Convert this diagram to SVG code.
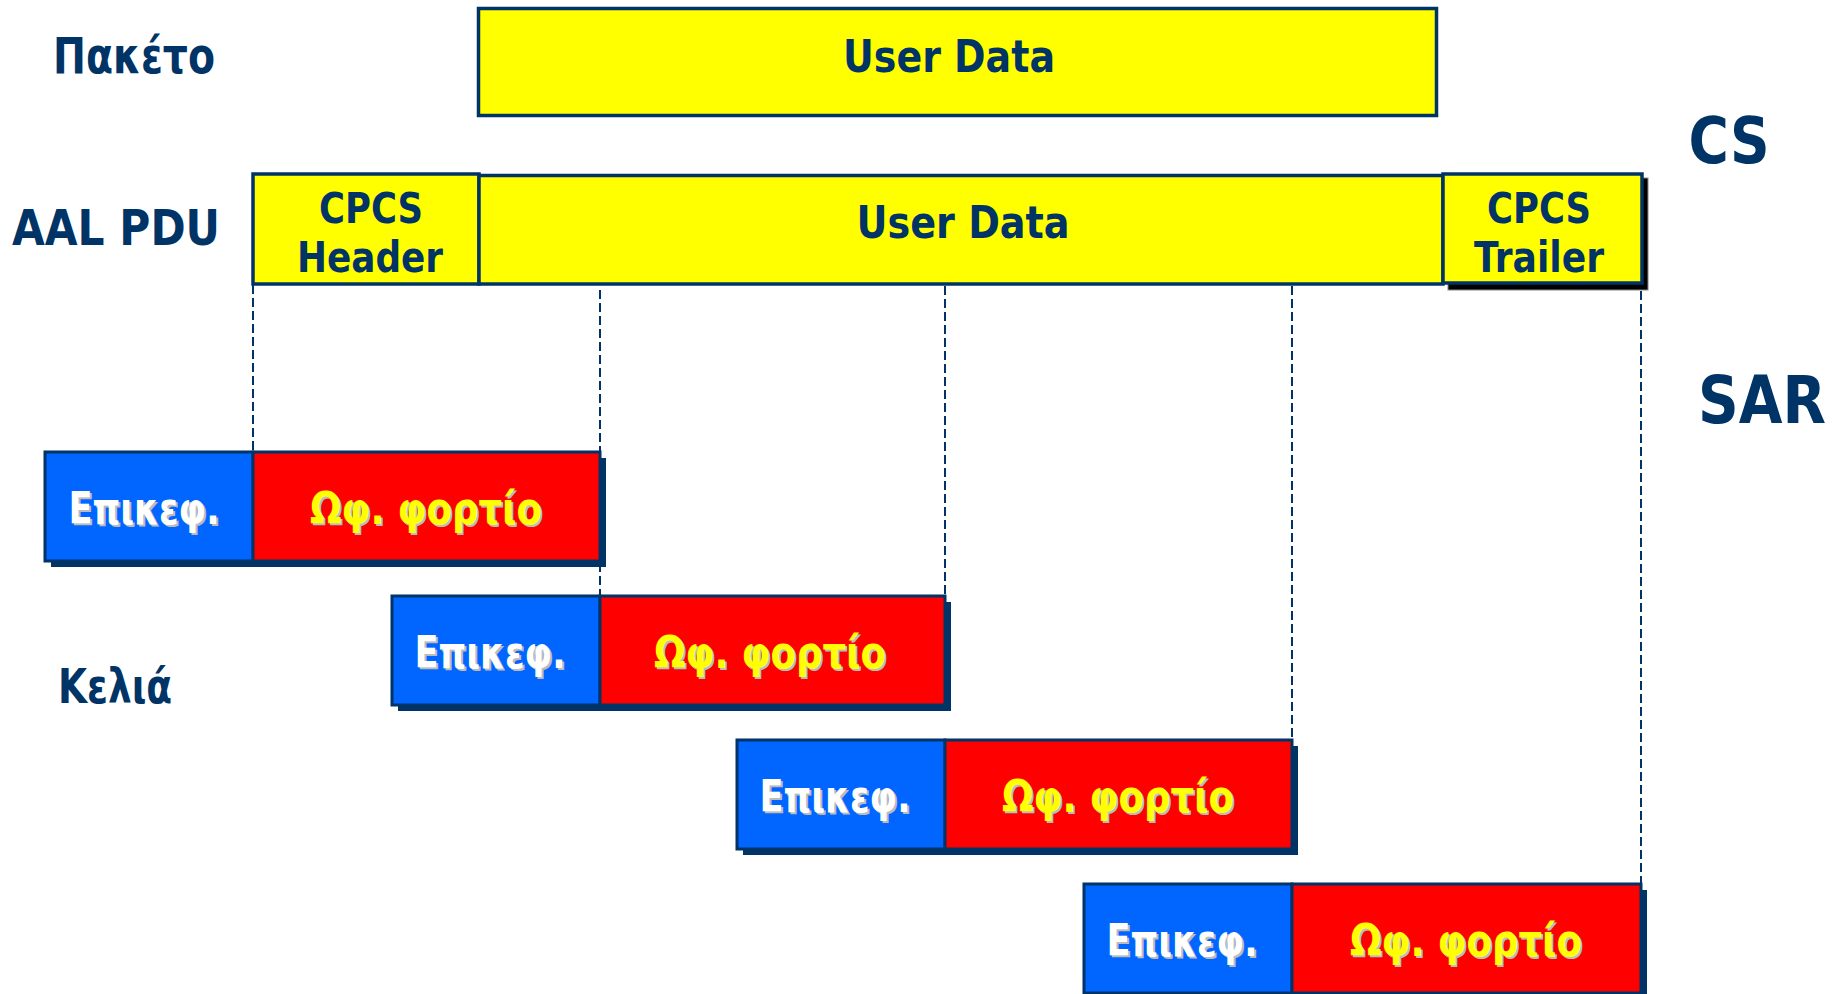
<svg xmlns="http://www.w3.org/2000/svg" width="1844" height="994" viewBox="0 0 1844 994">
<style>
.lbl{font-family:"DejaVu Sans","Liberation Sans",sans-serif;font-weight:bold;fill:#003366;text-anchor:middle}
.ybox{fill:#FFFF00;stroke:#003366;stroke-width:3.5}
.blue{fill:#0066FF;stroke:#003366;stroke-width:3}
.red{fill:#FF0000;stroke:#003366;stroke-width:3}
.shd{fill:#003366}
.ctxt{font-family:"DejaVu Sans","Liberation Sans",sans-serif;font-weight:bold;font-size:44px;text-anchor:middle}
.sh{fill:#BBBBBB}
.w{fill:#FFFFFF}
.yl{fill:#FFFF00}
.dash{stroke:#003366;stroke-width:2;stroke-dasharray:9 4;fill:none}
</style>
<rect width="1844" height="994" fill="#FFFFFF"/>

<g id="labels">
<text class="lbl" x="134" y="73" font-size="50" textLength="162" lengthAdjust="spacingAndGlyphs">Πακέτο</text>
<text class="lbl" x="116" y="245" font-size="50" textLength="208" lengthAdjust="spacingAndGlyphs">AAL PDU</text>
<text class="lbl" x="115" y="703" font-size="48" textLength="114" lengthAdjust="spacingAndGlyphs">Κελιά</text>
<text class="lbl" x="1729" y="163" font-size="64" textLength="81" lengthAdjust="spacingAndGlyphs">CS</text>
<text class="lbl" x="1762" y="423" font-size="66" textLength="128" lengthAdjust="spacingAndGlyphs">SAR</text>
</g>

<g id="connectors">
<line class="dash" x1="253" y1="285" x2="253" y2="452"/>
<line class="dash" x1="600" y1="290" x2="600" y2="596"/>
<line class="dash" x1="945" y1="286" x2="945" y2="596"/>
<line class="dash" x1="1292" y1="286" x2="1292" y2="740"/>
<line class="dash" x1="1641" y1="291" x2="1641" y2="884"/>
</g>

<g id="packet">
<rect class="ybox" x="478.5" y="8.5" width="958" height="107"/>
<text class="lbl" x="949" y="72" font-size="44" textLength="212" lengthAdjust="spacingAndGlyphs">User Data</text>
</g>

<g id="cpcs-header">
<rect class="ybox" x="253" y="174" width="226" height="110"/>
<text class="lbl" x="371" y="223" font-size="42" textLength="104" lengthAdjust="spacingAndGlyphs">CPCS</text>
<text class="lbl" x="370" y="272" font-size="42" textLength="146" lengthAdjust="spacingAndGlyphs">Header</text>
</g>

<g id="user-data">
<rect class="ybox" x="479" y="175.5" width="964" height="108.5"/>
<text class="lbl" x="963" y="238" font-size="44" textLength="213" lengthAdjust="spacingAndGlyphs">User Data</text>
</g>

<g id="cpcs-trailer">
<rect x="1448" y="178" width="200" height="112" fill="#000000" stroke="#888888" stroke-width="1"/>
<rect class="ybox" x="1443" y="174" width="199" height="109"/>
<text class="lbl" x="1539" y="223" font-size="42" textLength="104" lengthAdjust="spacingAndGlyphs">CPCS</text>
<text class="lbl" x="1539" y="272" font-size="42" textLength="130" lengthAdjust="spacingAndGlyphs">Trailer</text>
</g>

<g id="cell1">
<rect class="shd" x="51" y="458" width="555" height="109"/>
<rect class="blue" x="45" y="452" width="208" height="109"/>
<rect class="red" x="253" y="452" width="347" height="109"/>
<text class="ctxt sh" x="146" y="526" textLength="151" lengthAdjust="spacingAndGlyphs">Επικεφ.</text>
<text class="ctxt w" x="144" y="524" textLength="151" lengthAdjust="spacingAndGlyphs">Επικεφ.</text>
<text class="ctxt sh" x="428" y="526" textLength="232" lengthAdjust="spacingAndGlyphs">Ωφ. φορτίο</text>
<text class="ctxt yl" x="426" y="524" textLength="232" lengthAdjust="spacingAndGlyphs">Ωφ. φορτίο</text>
</g>

<g id="cell2">
<rect class="shd" x="398" y="602" width="553" height="109"/>
<rect class="blue" x="392" y="596" width="208" height="109"/>
<rect class="red" x="600" y="596" width="345" height="109"/>
<text class="ctxt sh" x="492" y="670" textLength="151" lengthAdjust="spacingAndGlyphs">Επικεφ.</text>
<text class="ctxt w" x="490" y="668" textLength="151" lengthAdjust="spacingAndGlyphs">Επικεφ.</text>
<text class="ctxt sh" x="772" y="670" textLength="232" lengthAdjust="spacingAndGlyphs">Ωφ. φορτίο</text>
<text class="ctxt yl" x="770" y="668" textLength="232" lengthAdjust="spacingAndGlyphs">Ωφ. φορτίο</text>
</g>

<g id="cell3">
<rect class="shd" x="743" y="746" width="555" height="109"/>
<rect class="blue" x="737" y="740" width="208" height="109"/>
<rect class="red" x="945" y="740" width="347" height="109"/>
<text class="ctxt sh" x="837" y="814" textLength="151" lengthAdjust="spacingAndGlyphs">Επικεφ.</text>
<text class="ctxt w" x="835" y="812" textLength="151" lengthAdjust="spacingAndGlyphs">Επικεφ.</text>
<text class="ctxt sh" x="1120" y="814" textLength="232" lengthAdjust="spacingAndGlyphs">Ωφ. φορτίο</text>
<text class="ctxt yl" x="1118" y="812" textLength="232" lengthAdjust="spacingAndGlyphs">Ωφ. φορτίο</text>
</g>

<g id="cell4">
<rect class="shd" x="1090" y="890" width="557" height="109"/>
<rect class="blue" x="1084" y="884" width="208" height="109"/>
<rect class="red" x="1292" y="884" width="349" height="109"/>
<text class="ctxt sh" x="1184" y="958" textLength="151" lengthAdjust="spacingAndGlyphs">Επικεφ.</text>
<text class="ctxt w" x="1182" y="956" textLength="151" lengthAdjust="spacingAndGlyphs">Επικεφ.</text>
<text class="ctxt sh" x="1468" y="958" textLength="232" lengthAdjust="spacingAndGlyphs">Ωφ. φορτίο</text>
<text class="ctxt yl" x="1466" y="956" textLength="232" lengthAdjust="spacingAndGlyphs">Ωφ. φορτίο</text>
</g>
</svg>
